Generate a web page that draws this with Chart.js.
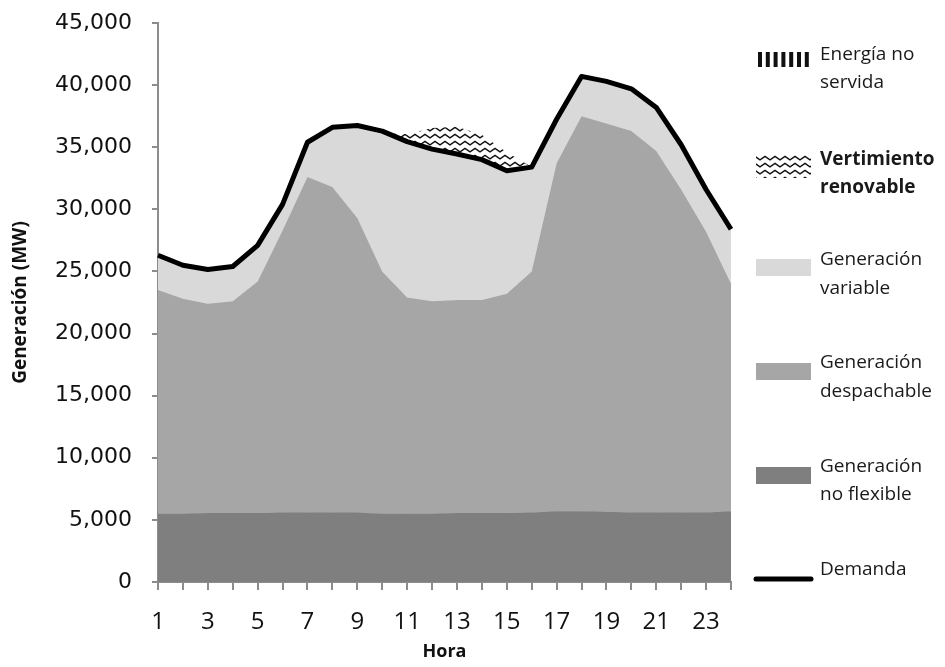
<!DOCTYPE html>
<html>
<head>
<meta charset="utf-8">
<script src="https://cdn.jsdelivr.net/npm/chart.js@4/dist/chart.umd.min.js"></script>
<style>
  html, body { margin: 0; padding: 0; background: #fff; }
  canvas { display: block; }
</style>
</head>
<body>
<canvas id="chart" width="945" height="667"></canvas>
<script>
// hourly values in MW
const horas = ['1','2','3','4','5','6','7','8','9','10','11','12','13','14','15','16','17','18','19','20','21','22','23','24'];

const noFlexible = [5500, 5500, 5550, 5550, 5550, 5600, 5600, 5600, 5600, 5500, 5500, 5500,
                    5550, 5550, 5550, 5600, 5700, 5700, 5650, 5600, 5600, 5600, 5600, 5700];

// top of the dispatchable band
const despachable = [23500, 22800, 22400, 22600, 24200, 28300, 32600, 31800, 29300, 25000, 22900, 22600,
                     22700, 22700, 23200, 25000, 33700, 37500, 36900, 36300, 34700, 31600, 28200, 24000];

const demanda = [26300, 25500, 25150, 25400, 27100, 30400, 35400, 36600, 36750, 36300, 35450, 34850,
                 34450, 34000, 33100, 33400, 37250, 40700, 40300, 39700, 38200, 35200, 31600, 28400];

// curtailed renewables, above the demand line
const vertimiento = [0, 0, 0, 0, 0, 0, 0, 0, 0, 0, 600, 1700,
                     2200, 2000, 1500, 0, 0, 0, 0, 0, 0, 0, 0, 0];

const noServida = [0, 0, 0, 0, 0, 0, 0, 0, 0, 0, 0, 0,
                   0, 0, 0, 0, 0, 0, 0, 0, 0, 0, 0, 0];

const yTicks = [0, 5000, 10000, 15000, 20000, 25000, 30000, 35000, 40000, 45000];

const gray1 = '#7f7f7f';
const gray2 = '#a6a6a6';
const gray3 = '#d9d9d9';
const axisGray = '#8c8c8c';

const makePattern = (w, h, draw) => {
  const c = document.createElement('canvas');
  c.width = w; c.height = h;
  const g = c.getContext('2d');
  g.fillStyle = '#fff';
  g.fillRect(0, 0, w, h);
  draw(g);
  return g.createPattern(c, 'repeat');
};

const zigzag = makePattern(10, 7, g => {
  g.strokeStyle = '#111';
  g.lineWidth = 1.4;
  g.beginPath();
  g.moveTo(-1, 5.6);
  g.lineTo(5, 1.4);
  g.lineTo(11, 5.6);
  g.stroke();
});

const bars = makePattern(8, 8, g => {
  g.fillStyle = '#111';
  g.fillRect(1, 0, 4, 8);
});

const sideLegend = {
  id: 'sideLegend',
  afterDraw(chart) {
    const ctx = chart.ctx;
    const x0 = 756, x1 = 811, tx = 820;
    const font = '19px "Open Sans"';
    const bold = 'bold 19px "Open Sans"';
    const text = (lines, ys, f) => {
      ctx.font = f;
      ctx.fillStyle = '#1a1a1a';
      ctx.textBaseline = 'middle';
      ctx.textAlign = 'left';
      lines.forEach((l, i) => ctx.fillText(l, tx, ys[i]));
    };
    ctx.save();

    // Energía no servida
    ctx.fillStyle = '#111';
    for (let i = 0; i < 7; i++) ctx.fillRect(758 + i * 7.8, 52, 4, 15);
    text(['Energía no', 'servida'], [55, 83], font);

    // Vertimiento renovable
    ctx.save();
    ctx.translate(0, 1);
    ctx.fillStyle = zigzag;
    ctx.fillRect(x0, 154, x1 - x0, 23);
    ctx.restore();
    text(['Vertimiento', 'renovable'], [160, 188], bold);

    ctx.fillStyle = gray3;
    ctx.fillRect(x0, 259, x1 - x0, 17);
    text(['Generación', 'variable'], [260, 289], font);

    ctx.fillStyle = gray2;
    ctx.fillRect(x0, 363, x1 - x0, 17);
    text(['Generación', 'despachable'], [363, 392], font);

    ctx.fillStyle = gray1;
    ctx.fillRect(x0, 467, x1 - x0, 17);
    text(['Generación', 'no flexible'], [467, 495], font);

    ctx.strokeStyle = '#000';
    ctx.lineWidth = 5;
    ctx.lineCap = 'round';
    ctx.beginPath();
    ctx.moveTo(x0, 579);
    ctx.lineTo(x1, 579);
    ctx.stroke();
    text(['Demanda'], [570], font);

    ctx.restore();
  }
};

new Chart(document.getElementById('chart'), {
  type: 'line',
  data: {
    labels: horas,
    datasets: [
      {
        label: 'Generación no flexible',
        data: noFlexible,
        fill: 'origin',
        backgroundColor: gray1,
        borderColor: gray1,
        borderWidth: 1,
        order: 5
      },
      {
        label: 'Generación despachable',
        data: despachable,
        fill: '-1',
        backgroundColor: gray2,
        borderColor: gray2,
        borderWidth: 1,
        order: 4
      },
      {
        label: 'Generación variable',
        data: demanda,
        fill: '-1',
        backgroundColor: gray3,
        borderColor: gray3,
        borderWidth: 1,
        order: 3
      },
      {
        label: 'Vertimiento renovable',
        data: demanda.map((d, i) => d + vertimiento[i]),
        fill: '-1',
        backgroundColor: zigzag,
        borderColor: 'rgba(0,0,0,0)',
        borderWidth: 0,
        order: 2
      },
      {
        label: 'Energía no servida',
        data: demanda.map((d, i) => d + noServida[i]),
        fill: '-2',
        backgroundColor: bars,
        borderColor: 'rgba(0,0,0,0)',
        borderWidth: 0,
        order: 1
      },
      {
        label: 'Demanda',
        data: demanda,
        fill: false,
        borderColor: '#000',
        borderWidth: 5,
        borderJoinStyle: 'round',
        order: 0
      }
    ]
  },
  options: {
    responsive: false,
    animation: false,
    devicePixelRatio: 1,
    elements: {
      point: { radius: 0, hoverRadius: 0 },
      line: { tension: 0 }
    },
    layout: { padding: { top: 23, right: 214, bottom: 0, left: 0 } },
    plugins: {
      legend: { display: false },
      tooltip: { enabled: false },
      filler: { propagate: false }
    },
    scales: {
      x: {
        type: 'category',
        offset: false,
        afterFit: s => { s.height = 85; },
        grid: { drawOnChartArea: false, tickLength: 8, color: axisGray, lineWidth: 2 },
        border: { color: axisGray, width: 2 },
        ticks: {
          autoSkip: false,
          maxRotation: 0,
          padding: 18,
          color: '#111',
          font: { family: '"Open Sans"', size: 24 },
          callback: (v, i) => (i % 2 === 0 ? horas[i] : '')
        },
        title: {
          display: true,
          text: 'Hora',
          color: '#111',
          font: { family: '"Open Sans"', size: 18, weight: 'bold' },
          padding: { top: 0, bottom: 4 }
        }
      },
      y: {
        min: yTicks[0],
        max: yTicks[yTicks.length - 1],
        afterFit: s => {
          s.width = 158;
          s.paddingTop = 0;
          s.paddingBottom = 0;
        },
        afterBuildTicks: s => { s.ticks = yTicks.map(v => ({ value: v })); },
        grid: { drawOnChartArea: false, tickLength: 6, color: axisGray, lineWidth: 2 },
        border: { color: axisGray, width: 2 },
        ticks: {
          padding: 20,
          color: '#111',
          font: { family: '"DejaVu Sans"', size: 22 },
          callback: v => v.toLocaleString('en-US')
        },
        title: {
          display: true,
          text: 'Generación (MW)',
          color: '#111',
          font: { family: '"Open Sans"', size: 19, weight: 'bold' },
          padding: { top: 9, bottom: 0 }
        }
      }
    }
  },
  plugins: [sideLegend]
});
</script>
</body>
</html>
